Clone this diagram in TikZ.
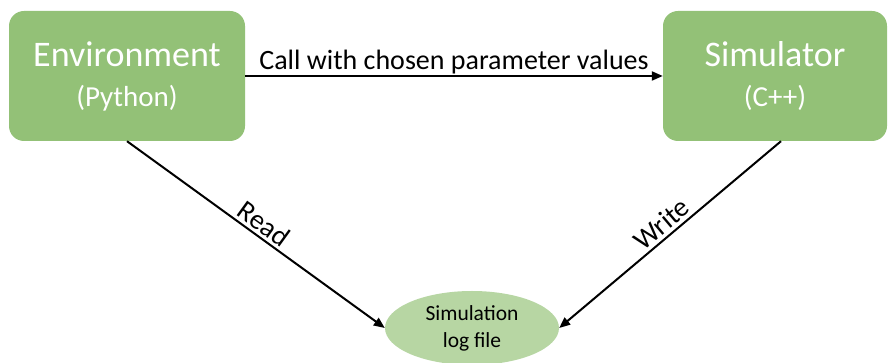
\documentclass[tikz,border=0pt]{standalone}
\usepackage{fontspec}
\setmainfont{Carlito}
\usetikzlibrary{arrows.meta, positioning, shapes.geometric}

\definecolor{boxgreen}{RGB}{147,193,119}
\definecolor{filegreen}{RGB}{183,214,163}

\tikzset{
  block/.style={fill=boxgreen, rounded corners=15pt, text=white, align=center, inner sep=0pt,
    font=\fontsize{36}{40}\selectfont},
  logfile/.style={ellipse, fill=filegreen, minimum width=174pt, minimum height=74pt, align=center, inner sep=0pt,
    font=\fontsize{21.5}{27}\selectfont},
  flow/.style={line width=2pt, -{Triangle[length=11pt,width=9pt]}},
  lbl/.style={font=\fontsize{28}{30}\selectfont}
}

\begin{document}
\begin{tikzpicture}[x=1pt, y=1pt]
\useasboundingbox (0,0) rectangle (888,363);
\clip (0,0) rectangle (888,363);

% boxes
\node[block, minimum width=236pt, minimum height=130pt] (env) at (127,287)
  {Environment\\{\fontsize{29}{29}\selectfont (Python)}};
\node[block, minimum width=224pt, minimum height=130pt] (sim) at (775,287)
  {Simulator\\{\fontsize{29}{29}\selectfont (C++)}};
\node[logfile] (log) at (472,35) {Simulation\\log file};

% connectors
\draw[flow] (env.east) -- node[above, lbl, inner sep=1pt] {Call with chosen parameter values} (sim.west);
\draw[flow] (env.south) -- node[above, sloped, lbl, inner sep=3pt] {Read} (log.west);
\draw[flow] ([xshift=6pt]sim.south) -- node[above, sloped, lbl, inner sep=3pt] {Write} (log.east);
\end{tikzpicture}
\end{document}
